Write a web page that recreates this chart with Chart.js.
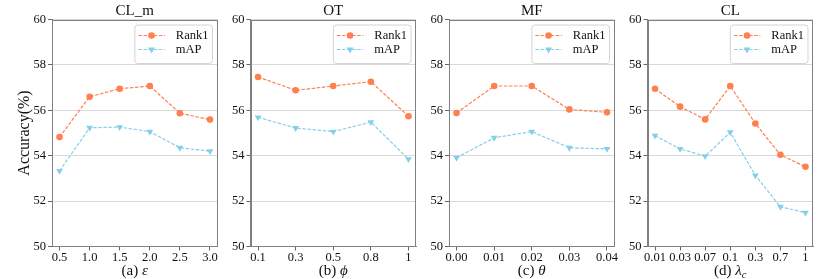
<!DOCTYPE html>
<html>
<head>
<meta charset="utf-8">
<script src="https://cdn.jsdelivr.net/npm/chart.js@4.4.1/dist/chart.umd.min.js"></script>
<style>
  html, body { margin: 0; padding: 0; background: #fff; }
  #wrap { position: relative; width: 830px; height: 279px; overflow: hidden; }
  #wrap canvas { position: absolute; top: 0; }
</style>
</head>
<body>
<div id="wrap"></div>
<script>
// --- data ---
const panelTitles = ['CL_m', 'OT', 'MF', 'CL'];
const xPrefixes = ['(a)', '(b)', '(c)', '(d)'];
const xSymbols = ['ε', 'ϕ', 'θ', 'λ'];
const xSubscripts = ['', '', '', 'c'];
const seriesNames = ['Rank1', 'mAP'];
const yTicks = [50, 52, 54, 56, 58, 60];

const epsLabels = ['0.5', '1.0', '1.5', '2.0', '2.5', '3.0'];
const epsRank1 = [54.82, 56.60, 56.95, 57.07, 55.87, 55.59];
const epsMAP = [53.33, 55.23, 55.26, 55.06, 54.35, 54.20];

const phiLabels = ['0.1', '0.3', '0.5', '0.8', '1'];
const phiRank1 = [57.47, 56.88, 57.07, 57.26, 55.74];
const phiMAP = [55.69, 55.22, 55.06, 55.48, 53.85];

const thetaLabels = ['0.00', '0.01', '0.02', '0.03', '0.04'];
const thetaRank1 = [55.88, 57.07, 57.07, 56.04, 55.91];
const thetaMAP = [53.91, 54.79, 55.06, 54.35, 54.30];

const lambdaLabels = ['0.01', '0.03', '0.07', '0.1', '0.3', '0.7', '1'];
const lambdaRank1 = [56.95, 56.16, 55.60, 57.07, 55.42, 54.04, 53.51];
const lambdaMAP = [54.88, 54.30, 53.98, 55.03, 53.13, 51.75, 51.49];

const panels = [
  { labels: epsLabels, rank1: epsRank1, map: epsMAP },
  { labels: phiLabels, rank1: phiRank1, map: phiMAP },
  { labels: thetaLabels, rank1: thetaRank1, map: thetaMAP },
  { labels: lambdaLabels, rank1: lambdaRank1, map: lambdaMAP },
];

// --- layout / style ---
const FONT = '"Liberation Serif", "Times New Roman", serif';
const TEXT = '#111';
const SPINE = '#808080';
const RANK1_COLOR = '#FF7F50';
const MAP_COLOR = '#87CEEB';
const H = 279;
const PLOT_W = 165.5;
const PLOT_BOTTOM = 246.5;
const TICK_SIZE = 12.5;
const plotLefts = [52, 250.5, 449, 647.5];

// axes frame (top + right spines)
const frame = {
  id: 'frame',
  afterDatasetsDraw(chart) {
    const { ctx, chartArea: a } = chart;
    ctx.save();
    ctx.strokeStyle = SPINE;
    ctx.lineWidth = 1;
    const l = Math.round(a.left) + 0.5, r = Math.round(a.right) - 0.5;
    const t = Math.round(a.top) + 0.5, b = Math.round(a.bottom) - 0.5;
    ctx.strokeRect(l, t, r - l, b - t);
    ctx.restore();
  }
};

// matplotlib-like legend inside the axes, upper right
const innerLegend = {
  id: 'innerLegend',
  afterDatasetsDraw(chart) {
    const { ctx, chartArea: a } = chart;
    const sets = chart.data.datasets;
    ctx.save();
    ctx.font = '12.5px ' + FONT;
    const textW = Math.max(...sets.map(d => ctx.measureText(d.label).width));
    const w = 41 + textW + 4;
    const h = 38.5;
    const x = a.right - 5 - w;
    const y = a.top + 5.5;
    ctx.beginPath();
    ctx.roundRect(x, y, w, h, 3);
    ctx.fillStyle = 'rgba(255,255,255,0.8)';
    ctx.fill();
    ctx.strokeStyle = '#d4d4d4';
    ctx.lineWidth = 1;
    ctx.stroke();
    sets.forEach((d, k) => {
      const cy = y + 10.5 + k * 14;
      ctx.strokeStyle = d.borderColor;
      ctx.lineWidth = d.borderWidth;
      ctx.setLineDash(d.borderDash);
      ctx.beginPath();
      ctx.moveTo(x + 3.5, cy);
      ctx.lineTo(x + 30, cy);
      ctx.stroke();
      ctx.setLineDash([]);
      ctx.fillStyle = d.borderColor;
      Chart.helpers.drawPoint(ctx, {
        pointStyle: d.pointStyle, rotation: d.pointRotation,
        radius: d.pointRadius, borderWidth: 0
      }, x + 16.7, cy);
      ctx.fillStyle = TEXT;
      ctx.textBaseline = 'middle';
      ctx.textAlign = 'left';
      ctx.fillText(d.label, x + 41, cy);
    });
    ctx.restore();
  }
};

// x label with italic greek symbol, e.g. "(d) λc"
const xLabel = {
  id: 'xLabel',
  afterDraw(chart, args, opts) {
    const { ctx, chartArea: a } = chart;
    const i = opts.index;
    const pre = xPrefixes[i] + ' ';
    ctx.save();
    ctx.fillStyle = TEXT;
    ctx.textBaseline = 'alphabetic';
    ctx.textAlign = 'left';
    const fPre = '15px ' + FONT, fSym = 'italic 15px ' + FONT, fSub = 'italic 10.5px ' + FONT;
    ctx.font = fPre; const w1 = ctx.measureText(pre).width;
    ctx.font = fSym; const w2 = ctx.measureText(xSymbols[i]).width;
    ctx.font = fSub; const w3 = xSubscripts[i] ? ctx.measureText(xSubscripts[i]).width : 0;
    let x = (a.left + a.right) / 2 - (w1 + w2 + w3) / 2;
    const y = 274.5;
    ctx.font = fPre; ctx.fillText(pre, x, y); x += w1;
    ctx.font = fSym; ctx.fillText(xSymbols[i], x, y); x += w2;
    if (w3) { ctx.font = fSub; ctx.fillText(xSubscripts[i], x, y + 3); }
    ctx.restore();
  }
};

const wrap = document.getElementById('wrap');

panels.forEach((p, i) => {
  const canvasLeft = i === 0 ? 0 : Math.floor(plotLefts[i] - 34);
  const axisW = plotLefts[i] - canvasLeft;
  const width = Math.ceil(axisW + PLOT_W + 12);
  const padRight = width - axisW - PLOT_W;
  const n = p.labels.length;

  const canvas = document.createElement('canvas');
  canvas.width = width;
  canvas.height = H;
  canvas.style.left = canvasLeft + 'px';
  wrap.appendChild(canvas);

  const line = (label, values, color, style, rotation, radius) => ({
    label,
    data: values.map((v, k) => ({ x: k, y: v })),
    borderColor: color,
    backgroundColor: color,
    pointBackgroundColor: color,
    pointBorderColor: color,
    pointBorderWidth: 0,
    borderWidth: 1.2,
    borderDash: [3.5, 1.6],
    pointStyle: style,
    pointRotation: rotation,
    pointRadius: radius,
    tension: 0,
    fill: false,
  });

  new Chart(canvas.getContext('2d'), {
    type: 'line',
    data: {
      datasets: [
        line(seriesNames[0], p.rank1, RANK1_COLOR, 'circle', 0, 3.3),
        line(seriesNames[1], p.map, MAP_COLOR, 'triangle', 180, 3.9),
      ]
    },
    options: {
      responsive: false,
      animation: false,
      devicePixelRatio: 1,
      layout: { padding: { left: 0, right: padRight, top: 0, bottom: 0 } },
      scales: {
        x: {
          type: 'linear',
          min: -0.05 * (n - 1),
          max: (n - 1) * 1.05,
          afterBuildTicks: (s) => { s.ticks = p.labels.map((_, k) => ({ value: k })); },
          afterFit: (s) => { s.height = H - PLOT_BOTTOM; },
          ticks: {
            callback: (v) => p.labels[v],
            autoSkip: false, maxRotation: 0, padding: 0,
            color: TEXT, font: { family: FONT, size: TICK_SIZE }
          },
          grid: { drawOnChartArea: false, drawTicks: true, tickLength: 4, tickColor: '#666' },
          border: { display: true, color: SPINE },
        },
        y: {
          min: 50,
          max: 60,
          afterBuildTicks: (s) => { s.ticks = yTicks.map(v => ({ value: v })); },
          afterFit: (s) => { s.width = axisW; },
          ticks: { padding: 2, color: TEXT, font: { family: FONT, size: TICK_SIZE } },
          grid: { color: '#d9d9d9', lineWidth: 1, tickLength: 4, tickColor: '#666' },
          border: { display: true, color: SPINE },
          title: {
            display: i === 0,
            text: 'Accuracy(%)',
            color: TEXT,
            font: { family: FONT, size: 16 },
            padding: { top: 15.4, bottom: 0 },
          },
        },
      },
      plugins: {
        legend: { display: false },
        tooltip: { enabled: false },
        title: {
          display: true,
          text: panelTitles[i],
          fullSize: false,
          color: TEXT,
          font: { family: FONT, size: 15, weight: 'normal', lineHeight: 1 },
          padding: { top: 3.8, bottom: 0.7 },
        },
        xLabel: { index: i },
      },
    },
    plugins: [frame, innerLegend, xLabel],
  });
});
</script>
</body>
</html>
